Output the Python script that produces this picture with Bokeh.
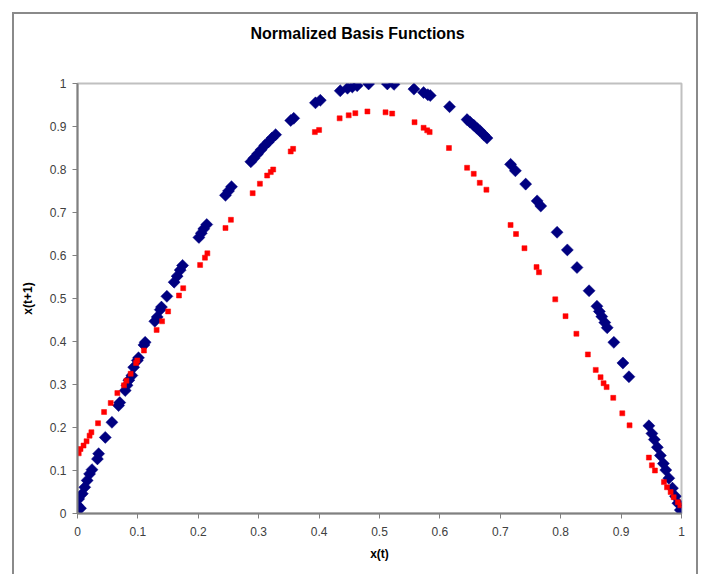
from bokeh.plotting import figure
from bokeh.embed import file_html
from bokeh.resources import INLINE
from bokeh.models import ColumnDataSource, FixedTicker, NumeralTickFormatter, Range1d, Title
import math

# Blue diamonds: x(t), x(t+1)
blue_x = [0.000, 0.002, 0.005, 0.008, 0.012, 0.016, 0.020, 0.024, 0.033, 0.035,
          0.046, 0.057, 0.068, 0.070, 0.079, 0.082, 0.085, 0.090, 0.093, 0.099,
          0.101, 0.110, 0.112, 0.128, 0.132, 0.137, 0.139, 0.148, 0.160, 0.165,
          0.170, 0.174, 0.201, 0.205, 0.209, 0.214, 0.245, 0.250, 0.255, 0.287,
          0.292, 0.298, 0.304, 0.310, 0.316, 0.322, 0.328, 0.353, 0.358, 0.394,
          0.402, 0.435, 0.447, 0.455, 0.463, 0.482, 0.513, 0.524, 0.557, 0.573,
          0.580, 0.584, 0.616, 0.645, 0.650, 0.656, 0.662, 0.667, 0.673, 0.678,
          0.717, 0.725, 0.742, 0.761, 0.767, 0.794, 0.811, 0.827, 0.847, 0.860,
          0.864, 0.868, 0.873, 0.877, 0.888, 0.903, 0.913, 0.946, 0.951, 0.955,
          0.960, 0.965, 0.970, 0.974, 0.979, 0.985, 0.990, 0.994, 0.998]
blue_y = [0.019, 0.034, 0.012, 0.046, 0.061, 0.077, 0.092, 0.102, 0.127, 0.139,
          0.177, 0.212, 0.251, 0.258, 0.286, 0.298, 0.310, 0.321, 0.340, 0.356,
          0.362, 0.392, 0.398, 0.447, 0.457, 0.474, 0.480, 0.505, 0.538, 0.552,
          0.566, 0.577, 0.642, 0.652, 0.662, 0.672, 0.740, 0.750, 0.760, 0.818,
          0.826, 0.836, 0.846, 0.856, 0.864, 0.873, 0.881, 0.914, 0.919, 0.955,
          0.961, 0.983, 0.989, 0.992, 0.995, 0.999, 0.999, 0.998, 0.987, 0.979,
          0.974, 0.972, 0.946, 0.916, 0.910, 0.903, 0.895, 0.889, 0.880, 0.873,
          0.812, 0.797, 0.766, 0.727, 0.715, 0.654, 0.613, 0.572, 0.518, 0.482,
          0.470, 0.458, 0.444, 0.432, 0.398, 0.350, 0.318, 0.204, 0.186, 0.172,
          0.154, 0.135, 0.116, 0.101, 0.082, 0.059, 0.040, 0.024, 0.008]

# Red squares
red_x = [0.002, 0.005, 0.010, 0.015, 0.020, 0.023, 0.034, 0.044, 0.055, 0.066,
         0.077, 0.081, 0.088, 0.097, 0.099, 0.110, 0.131, 0.140, 0.150, 0.168,
         0.175, 0.203, 0.211, 0.215, 0.245, 0.254, 0.290, 0.302, 0.314, 0.320,
         0.324, 0.353, 0.357, 0.393, 0.400, 0.434, 0.449, 0.460, 0.480, 0.510,
         0.521, 0.558, 0.573, 0.579, 0.583, 0.615, 0.645, 0.656, 0.666, 0.677,
         0.717, 0.726, 0.740, 0.760, 0.764, 0.791, 0.808, 0.826, 0.845, 0.858,
         0.866, 0.871, 0.876, 0.887, 0.902, 0.914, 0.946, 0.951, 0.956, 0.971,
         0.976, 0.982, 0.987, 0.994, 0.998]
red_y = [0.140, 0.150, 0.158, 0.168, 0.181, 0.189, 0.210, 0.236, 0.257, 0.280,
         0.298, 0.309, 0.325, 0.350, 0.356, 0.379, 0.427, 0.447, 0.470, 0.507,
         0.524, 0.578, 0.595, 0.605, 0.664, 0.683, 0.745, 0.767, 0.786, 0.794,
         0.800, 0.842, 0.848, 0.887, 0.892, 0.919, 0.926, 0.931, 0.935, 0.933,
         0.930, 0.910, 0.897, 0.891, 0.887, 0.850, 0.804, 0.790, 0.769, 0.753,
         0.671, 0.650, 0.617, 0.573, 0.561, 0.498, 0.459, 0.418, 0.370, 0.334,
         0.317, 0.303, 0.294, 0.269, 0.233, 0.205, 0.130, 0.112, 0.100, 0.073,
         0.061, 0.050, 0.038, 0.026, 0.019]

ticks = [0, 0.1, 0.2, 0.3, 0.4, 0.5, 0.6, 0.7, 0.8, 0.9, 1.0]

title_text = "Normalized Basis Functions"
x_label = "x(t)"
y_label = "x(t+1)"

FONT = "Liberation Sans"

p = figure(width=686, height=562, output_backend="svg", toolbar_location=None,
           x_range=Range1d(0, 1), y_range=Range1d(0, 1),
           min_border_left=63, min_border_right=19, min_border_top=69, min_border_bottom=63)
p.styles = {"margin-left": "12px", "margin-top": "12px",
            "border-left": "2px solid #8a8a8a", "border-top": "2px solid #8a8a8a",
            "border-right": "2px solid #8a8a8a"}
p.title.text = title_text
p.title.align = "left"
p.title.offset = 173
p.title.standoff = 0
p.title.text_font = FONT
p.title.text_font_size = "16px"
p.title.text_font_style = "bold"
p.title.text_color = "#000000"

# empty spacer panel between the title and the plot area
p.add_layout(Title(text=" ", text_font_size="1px", standoff=39), "above")

p.background_fill_color = "white"
p.border_fill_color = "white"
p.outline_line_color = "#c0c0c0"
p.outline_line_width = 2
p.grid.visible = False

for ax in (p.xaxis[0], p.yaxis[0]):
    ax.ticker = FixedTicker(ticks=ticks)
    ax.formatter = NumeralTickFormatter(format="0.[0]")
    ax.axis_line_color = "#808080"
    ax.axis_line_width = 2
    ax.major_tick_line_color = "#808080"
    ax.major_tick_out = 5
    ax.major_tick_in = 0
    ax.minor_tick_line_color = None
    ax.major_label_text_font = FONT
    ax.major_label_text_font_size = "12px"
    ax.major_label_text_color = "#404040"
    ax.axis_label_text_font = FONT
    ax.axis_label_text_font_size = "12px"
    ax.axis_label_text_font_style = "bold"
    ax.axis_label_text_color = "#000000"

p.xaxis.axis_label = x_label
p.yaxis.axis_label = y_label
p.xaxis.major_label_standoff = 8
p.yaxis.major_label_standoff = 6
p.xaxis.axis_label_standoff = 8
p.yaxis.axis_label_standoff = 12

blue = ColumnDataSource(dict(x=blue_x, y=blue_y))
red = ColumnDataSource(dict(x=red_x, y=red_y))

p.scatter("x", "y", source=blue, marker="square", size=8.5, angle=math.pi / 4,
          fill_color="#000080", line_color="#000080", line_width=0.5)
p.scatter("x", "y", source=red, marker="square", size=5,
          fill_color="#ff0000", line_color="#ff0000", line_width=0.5)

open("out.html", "w").write(file_html(p, INLINE))
